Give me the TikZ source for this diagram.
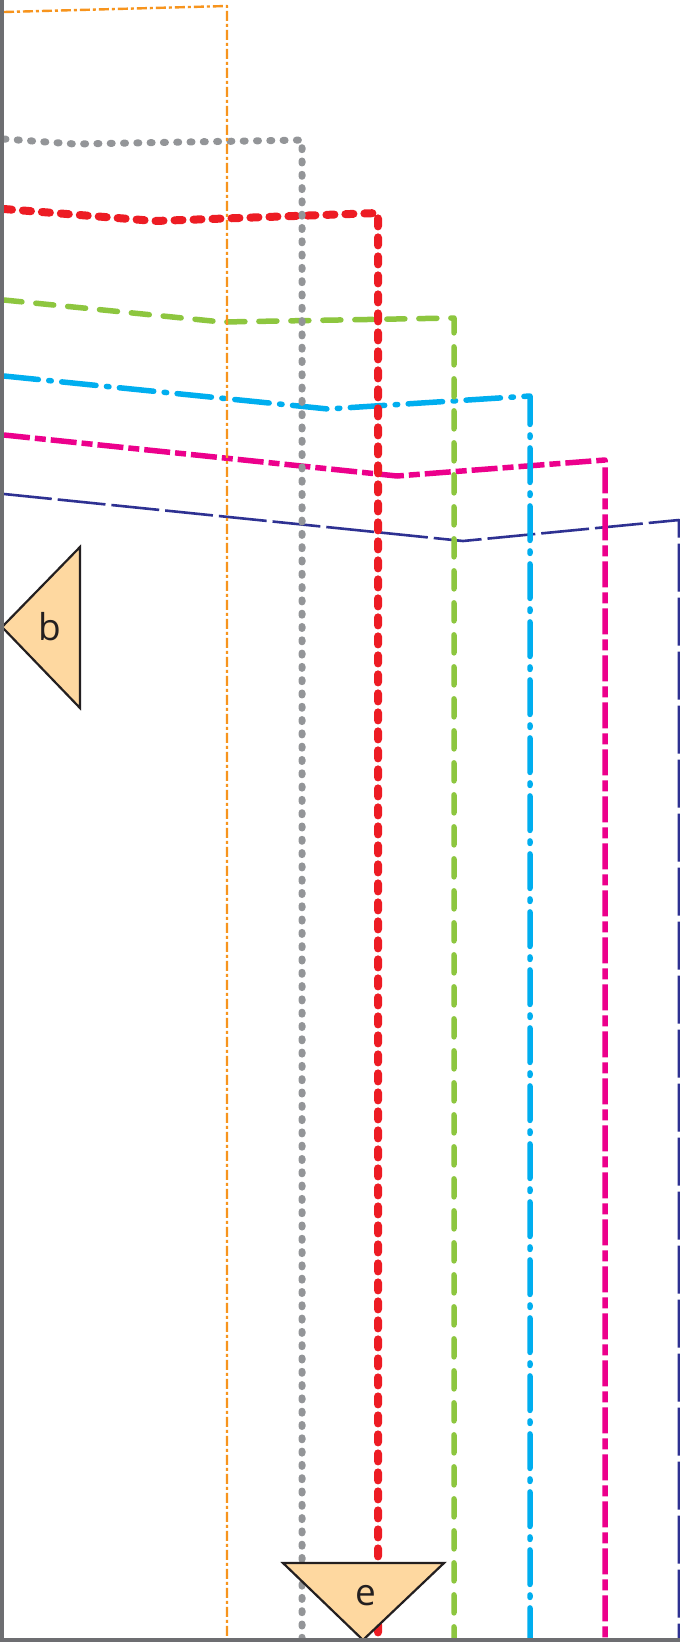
\documentclass[tikz,border=0pt]{standalone}
\usepackage{fontspec}
\setmainfont{Open Sans}
\definecolor{cOrange}{HTML}{F7941D}
\definecolor{cGray}{HTML}{939598}
\definecolor{cRed}{HTML}{ED1C24}
\definecolor{cGreen}{HTML}{8DC63F}
\definecolor{cCyan}{HTML}{00AEEF}
\definecolor{cMagenta}{HTML}{EC008C}
\definecolor{cNavy}{HTML}{2E3192}
\definecolor{cBorder}{HTML}{6D6E71}
\definecolor{cPeach}{HTML}{FED8A0}
\definecolor{cInk}{HTML}{231F20}
\begin{document}
\begin{tikzpicture}[x=1pt,y=-1pt,line join=round,
  orangeline/.style={cOrange,line width=2.4pt,dash pattern=on 10pt off 3pt on 3pt off 3pt},
  grayline/.style={cGray,line width=7pt,line cap=round,dash pattern=on 2pt off 11.3pt},
  redline/.style={cRed,line width=8pt,line cap=round,dash pattern=on 8pt off 11pt},
  greenline/.style={cGreen,line width=5.5pt,line cap=round,dash pattern=on 18pt off 14pt},
  cyanline/.style={cCyan,line width=5.5pt,line cap=round,dash pattern=on 34.5pt off 10.5pt on 2.5pt off 10.5pt},
  magentaline/.style={cMagenta,line width=5.5pt,dash pattern=on 26pt off 5pt on 11pt off 5pt},
  navyline/.style={cNavy,line width=2.6pt,dash pattern=on 48pt off 6pt},
  tri/.style={fill=cPeach,draw=cInk,line width=2.2pt,line join=miter},
  lbl/.style={text=cInk,font=\fontsize{37}{40}\selectfont,inner sep=0pt,anchor=base},
  border/.style={fill=cBorder}]
\useasboundingbox (0,0) rectangle (680,1642);
\fill[white] (0,0) rectangle (680,1642);
% coordinates
\coordinate (n1) at (4,494);   \coordinate (n2) at (463,541); \coordinate (n3) at (679,520); \coordinate (n4) at (679,1642);
\coordinate (m1) at (4,435);   \coordinate (m2) at (397,476); \coordinate (m3) at (605,460); \coordinate (m4) at (605,1642);
\coordinate (c1) at (4,376);   \coordinate (c2) at (328,409); \coordinate (c3) at (530,396); \coordinate (c4) at (530,1642);
\coordinate (g1) at (4,300);   \coordinate (g2) at (222,322); \coordinate (g3) at (454,318); \coordinate (g4) at (454,1642);
\coordinate (r1) at (4,209);   \coordinate (r2) at (155,221); \coordinate (r3) at (378,213); \coordinate (r4) at (378,1642);
\coordinate (y1) at (4,139);   \coordinate (y2) at (75,144);  \coordinate (y3) at (302,140); \coordinate (y4) at (302,1642);
\coordinate (o1) at (4,12);    \coordinate (o3) at (227,6);   \coordinate (o4) at (227,1642);
% lines
\draw[navyline] (n1) -- (n2) -- (n3) -- (n4);
\draw[magentaline] (m1) -- (m2) -- (m3) -- (m4);
\draw[cyanline] (c1) -- (c2) -- (c3) -- (c4);
\draw[greenline] (g1) -- (g2) -- (g3) -- (g4);
\draw[redline] (r1) -- (r2) -- (r3) -- (r4);
\draw[grayline] (y1) -- (y2) -- (y3) -- (y4);
\draw[orangeline] (o1) -- (o3) -- (o4);
% triangles
\draw[tri] (2,627) -- (80,547) -- (80,708) -- cycle;
\node[lbl] (b) at (50,640) {b};
\draw[tri] (283,1563) -- (444,1563) -- (363,1640) -- cycle;
\node[lbl] (e) at (366,1605) {e};
% borders
\fill[border] (0,0) rectangle (4,1642);
\fill[border] (0,1638) rectangle (680,1642);
\end{tikzpicture}
\end{document}
